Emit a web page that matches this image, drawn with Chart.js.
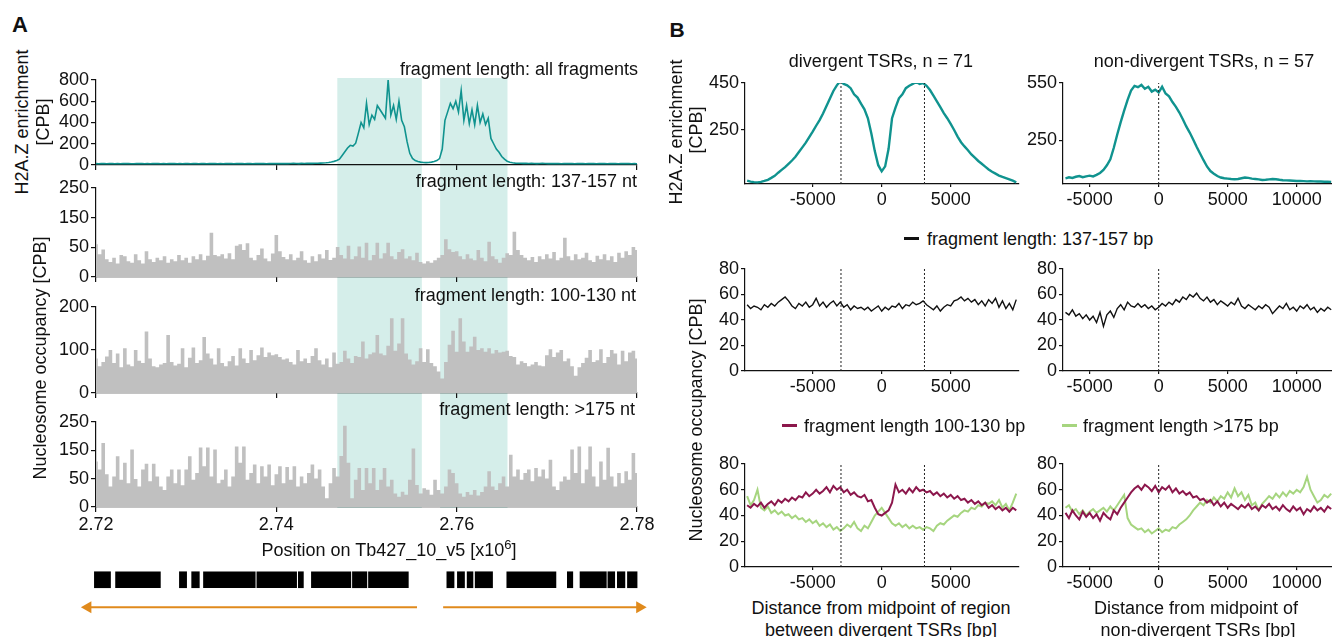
<!DOCTYPE html>
<html>
<head>
<meta charset="utf-8">
<title>H2A.Z enrichment and nucleosome occupancy</title>
<script src="https://cdn.jsdelivr.net/npm/chart.js@4.4.1/dist/chart.umd.min.js"></script>
<style>
  html, body { margin: 0; padding: 0; }
  body { width: 1332px; height: 637px; overflow: hidden; position: relative; background: #fff;
         font-family: "Liberation Sans", Arial, sans-serif; color: #111; }
  canvas { position: absolute; z-index: 1; }
  .txt { position: absolute; white-space: nowrap; font-size: 18px; line-height: 1; z-index: 2; }
  .c { transform: translate(-50%, -50%); }
  .r { transform: translate(-100%, -50%); }
  .l { transform: translate(0, -50%); }
  .rot { transform: translate(-50%, -50%) rotate(-90deg); }
  .panel { font-weight: bold; font-size: 22px; }
  .dash { position: absolute; height: 3px; width: 15px; z-index: 2; }
  sup { font-size: 13px; line-height: 0; vertical-align: 7px; }
</style>
</head>
<body>
<div class="txt panel c" style="left:20px;top:25px">A</div>
<div class="txt panel c" style="left:677px;top:29px;font-size:21px">B</div>

<div class="txt r" style="left:638px;top:69px">fragment length: all fragments</div>
<div class="txt r" style="left:637px;top:181px">fragment length: 137-157 nt</div>
<div class="txt r" style="left:636px;top:295px">fragment length: 100-130 nt</div>
<div class="txt r" style="left:635px;top:409px">fragment length: &gt;175 nt</div>
<div class="txt c" style="left:389px;top:550px">Position on Tb427_10_v5 [x10<sup>6</sup>]</div>
<div class="txt rot" style="left:22px;top:122px">H2A.Z enrichment</div>
<div class="txt rot" style="left:43px;top:122px">[CPB]</div>
<div class="txt rot" style="left:40px;top:358px">Nucleosome occupancy [CPB]</div>

<div class="txt c" style="left:881px;top:61px">divergent TSRs, n = 71</div>
<div class="txt c" style="left:1204px;top:61px">non-divergent TSRs, n = 57</div>
<div class="txt rot" style="left:676px;top:132px">H2A.Z enrichment</div>
<div class="txt rot" style="left:696px;top:130px">[CPB]</div>
<div class="txt rot" style="left:696px;top:420px">Nucleosome occupancy [CPB]</div>

<div class="dash" style="left:904px;top:237px;background:#111"></div>
<div class="txt l" style="left:927px;top:239px">fragment length: 137-157 bp</div>
<div class="dash" style="left:782px;top:424px;background:#8c174c"></div>
<div class="txt l" style="left:804px;top:426px">fragment length 100-130 bp</div>
<div class="dash" style="left:1062px;top:424px;background:#a6d57f"></div>
<div class="txt l" style="left:1083px;top:426px">fragment length &gt;175 bp</div>

<div class="txt c" style="left:881px;top:608px">Distance from midpoint of region</div>
<div class="txt c" style="left:881px;top:630px">between divergent TSRs [bp]</div>
<div class="txt c" style="left:1196px;top:608px">Distance from midpoint of</div>
<div class="txt c" style="left:1198px;top:630px">non-divergent TSRs [bp]</div>

<script>
// ---------- panel A: locus on Tb427_10_v5 (x10^6) ----------
const posStartA = 2.72;
const tealBin = 0.0003;
const grayBin = 0.0004;

const h2azAll = [
  13,12,14,13,12,13,14,12,13,12, 13,14,13,12,12,13,14,13,12,13,
  12,13,13,14,12,13,12,13,14,13, 12,13,12,14,13,12,13,13,12,14,
  13,12,13,14,13,12,13,12,13,14, 13,12,14,13,13,12,13,14,12,13,
  13,14,13,12,13,14,13,13,14,13, 14,13,14,15,14,13,15,14,15,16,
  15,16,17,18,19,21,24,28,34,42, 55,90,125,160,185,178,205,300,400,350,
  580,380,470,430,560,520,480,440,800,470, 560,430,600,420,360,220,110,62,42,32,
  27,24,22,23,27,32,42,60,150,420, 500,580,530,600,500,700,420,560,390,520,
  380,560,400,480,380,440,250,200,150,120, 80,55,36,26,21,18,17,16,15,15,
  14,15,14,13,14,15,14,13,14,13, 14,13,12,14,13,14,13,12,13,14,
  13,12,13,14,13,12,13,14,13,12, 13,14,13,12,13,13,14,13,12,13,
  12
];
const occ137 = [
  92,64,77,50,42,54,38,62,58,44, 40,64,47,38,72,50,42,54,47,58,
  40,50,44,62,47,54,40,58,50,64, 47,60,124,62,58,64,52,67,50,88,
  92,76,95,54,47,62,80,52,44,66, 118,72,56,50,64,47,54,72,47,40,
  58,44,64,52,76,48,54,84,62,52, 88,50,58,86,54,96,47,62,96,52,
  67,96,58,50,70,78,52,58,47,68, 42,38,44,40,47,54,62,106,78,70,
  72,58,50,64,52,47,76,54,44,99, 58,50,40,54,67,62,127,76,62,54,
  47,56,42,58,50,64,52,70,47,54, 110,58,47,64,50,54,68,47,42,60,
  50,64,47,58,42,68,54,72,62,84, 76
];
const occ100 = [
  80,62,72,85,100,70,92,60,104,66, 62,100,75,70,143,80,62,60,66,70,
  135,72,64,68,104,60,82,106,70,76, 130,92,80,66,104,70,62,74,86,64,
  104,80,70,100,76,88,106,84,94,88, 90,84,78,80,72,66,100,74,80,70,
  86,104,76,66,80,60,94,68,72,98, 80,70,86,84,120,80,90,94,135,92,
  88,110,174,98,115,174,92,78,66,74, 104,72,102,70,62,50,34,72,112,145,
  96,174,120,96,108,131,100,104,96,104, 92,100,94,96,98,86,84,66,74,70,
  62,66,72,64,62,88,102,84,94,100, 74,80,62,40,60,70,82,100,72,76,
  102,70,84,100,92,66,98,74,94,98, 80
];
const occ175 = [
  134,110,188,96,60,90,149,80,130,70, 169,82,60,110,127,76,127,90,60,50,
  90,110,70,110,64,110,149,80,100,175, 120,175,90,169,70,80,110,60,90,178,
  130,178,80,100,125,70,120,90,125,64, 96,120,70,118,80,120,60,90,70,100,
  125,84,110,60,26,70,115,90,150,239, 130,26,80,115,50,115,70,115,50,80,
  115,60,80,40,30,45,36,80,172,65, 40,55,51,36,80,50,40,60,110,100,
  70,40,30,44,36,50,34,44,60,105, 60,50,70,90,60,154,90,110,80,100,
  110,76,115,90,110,84,139,60,50,75, 90,80,169,100,178,70,110,178,90,60,
  134,80,174,90,60,100,70,105,80,159, 100
];

const shadeRegions = [[2.7468, 2.7561], [2.7582, 2.7656]];
const genes = [
  [2.71982, 2.72161], [2.72217, 2.72714], [2.72925, 2.73005], [2.73061, 2.73146],
  [2.73192, 2.73766], [2.73784, 2.74225], [2.74244, 2.74300], [2.74389, 2.74826],
  [2.74844, 2.75004], [2.75022, 2.75464],
  [2.75891, 2.75971], [2.76008, 2.76087], [2.76116, 2.76181], [2.76205, 2.76398],
  [2.76556, 2.77101], [2.77227, 2.77288], [2.77368, 2.77660], [2.77677, 2.77753],
  [2.77782, 2.77866], [2.77894, 2.78001]
];
const strandArrows = [[2.7556, 2.7191], [2.7585, 2.7803]];

const posTicksA = [2.72, 2.74, 2.76, 2.78];
const h2azTicksA = [0, 200, 400, 600, 800];
const occTicks100 = [0, 100, 200];
const occLabels250 = ['0', '50', '150', '250'];

// ---------- panel B: profiles around TSRs ----------
const divStart = -9750;
const nonStart = -6750;
const binB = 250;

const divH2az = [
  34,30,28,27,29,33,38,46,55,68, 80,92,106,120,136,156,176,196,220,243,
  268,292,320,352,384,416,440,458,446,440, 428,402,388,362,338,300,235,160,100,74,
  95,170,300,345,385,402,428,438,446,454, 446,450,438,420,396,372,347,322,300,276,
  250,222,198,180,164,146,132,118,106,94, 82,72,64,56,50,45,40,34,27
];
const nonH2az = [
  50,55,52,58,62,56,60,64,60,68, 78,94,118,150,210,280,345,405,462,510,
  535,528,540,520,530,505,515,500,530,495, 480,450,425,395,360,322,290,254,215,180,
  145,112,88,74,62,54,50,48,46,45, 46,50,54,52,48,46,44,41,42,44,
  46,45,42,40,39,38,37,36,36,35, 34,35,34,33,33,32,32,31
];
const div137 = [
  52,49,51,50,48,52,50,53,51,54, 56,58,55,51,49,53,51,54,50,52,
  57,51,54,50,53,55,51,54,50,52, 48,51,49,50,48,50,47,49,51,47,
  50,48,51,50,53,49,52,51,54,52, 53,55,52,50,48,51,47,50,52,51,
  55,56,58,55,57,54,56,52,55,51, 56,53,57,50,55,49,53,48,56
];
const non137 = [
  46,44,48,43,45,41,44,40,43,38, 46,35,44,47,42,49,52,48,54,51,
  50,53,50,52,49,51,48,50,53,51, 54,52,56,54,58,56,60,58,61,57,
  55,58,54,56,52,55,53,51,54,52, 57,51,49,52,50,48,51,49,52,50,
  45,48,51,49,53,48,50,47,51,49, 52,48,50,46,49,47,50,48
];
const div100 = [
  48,46,49,47,50,46,49,51,48,52, 50,53,51,54,52,55,54,58,55,57,
  60,57,59,62,58,63,60,62,58,60, 56,58,55,54,56,51,52,46,41,40,
  42,44,50,64,58,60,57,61,58,62, 59,60,58,59,56,58,55,57,54,56,
  53,55,52,53,50,52,49,51,48,50, 46,48,45,47,44,46,43,46,44
];
const div175 = [
  55,48,52,60,46,44,47,42,44,41, 43,40,41,38,40,37,38,35,37,34,
  36,32,34,31,33,29,31,28,30,33, 31,35,30,28,32,30,35,40,43,46,
  42,38,34,32,34,31,33,30,32,30, 31,29,31,30,28,32,34,33,36,38,
  40,39,42,44,43,46,45,48,47,50, 49,51,48,52,46,49,44,50,57
];
const non100 = [
  42,38,44,40,37,43,39,42,38,41, 36,42,39,37,44,41,46,50,54,58,
  61,63,60,64,62,59,63,58,62,60, 63,58,61,57,59,56,58,54,55,52,
  53,50,52,48,51,47,50,46,49,47, 45,48,46,49,45,47,44,48,46,49,
  45,47,44,48,45,43,47,44,46,41, 45,43,47,44,46,43,47,45
];
const non175 = [
  46,48,43,45,41,44,40,43,45,42, 44,46,43,47,44,48,52,56,38,33,
  31,29,30,27,29,26,28,30,27,29, 28,31,30,33,35,37,40,44,47,50,
  48,52,50,54,51,55,53,58,54,61, 55,58,52,56,48,50,44,49,52,55,
  53,57,54,58,55,59,57,60,58,62, 70,60,55,50,52,56,54,57
];

const divMarks = [-2950, 3100];
const nonMarks = [0];
const divTicksX = [-5000, 0, 5000];
const nonTicksX = [-5000, 0, 5000, 10000];
const divH2azTicks = [250, 450];
const nonH2azTicks = [250, 550];
const occTicksB = [0, 20, 40, 60, 80];

// ---------- styling ----------
const TEAL = '#10938f', GRAY = '#c0c0c0', SHADE = '#d5eeea';
const MAROON = '#8c174c', GREEN = '#a6d57f', ORANGE = '#e08a1c', INK = '#111';

Chart.defaults.font.family = '"Liberation Sans", Arial, sans-serif';
Chart.defaults.font.size = 18;
Chart.defaults.color = INK;
Chart.defaults.animation = false;
Chart.defaults.plugins.legend.display = false;
Chart.defaults.plugins.tooltip.enabled = false;
Chart.defaults.elements.point.radius = 0;
Chart.defaults.elements.line.tension = 0;

function series(values, start, step) {
  return values.map((v, i) => ({ x: start + i * step, y: v }));
}

function axis(min, max, ticks, label, tickLen, showLabels = true) {
  return {
    type: 'linear', min, max, offset: false,
    afterBuildTicks: s => { s.ticks = ticks.map(v => ({ value: v })); },
    ticks: { autoSkip: false, maxRotation: 0, padding: 2, color: INK,
             callback: showLabels ? label : () => '' },
    grid: { drawOnChartArea: false, drawTicks: true, tickLength: tickLen, color: INK, lineWidth: 1.2 },
    border: { display: true, color: INK, width: 1.2 }
  };
}

function addCanvas(left, top, w, h) {
  const cv = document.createElement('canvas');
  cv.width = w; cv.height = h;
  cv.style.left = left + 'px'; cv.style.top = top + 'px';
  document.body.appendChild(cv);
  return cv;
}

// plot box l..r, t..b is fixed in page pixels; axes get fixed sizes
function frame(box, config) {
  const { l, t, r, b, yw = 60, xh = 30, pt = 12, pr = 24 } = box;
  const cv = addCanvas(l - yw, t - pt, r - l + yw + pr, b - t + pt + xh);
  const o = config.options;
  o.responsive = false;
  o.devicePixelRatio = 1;
  o.layout = { autoPadding: false, padding: { left: 0, top: pt, right: pr, bottom: 0 } };
  o.scales.x.afterFit = s => { s.height = xh; s.paddingLeft = 0; s.paddingRight = 0; };
  o.scales.y.afterFit = s => { s.width = yw; s.paddingTop = 0; s.paddingBottom = 0; };
  return new Chart(cv, config);
}

// chart without visible axes
function bare(box, config) {
  const { l, t, r, b } = box;
  const cv = addCanvas(l, t, r - l, b - t);
  const o = config.options;
  o.responsive = false;
  o.devicePixelRatio = 1;
  o.layout = { autoPadding: false, padding: 0 };
  return new Chart(cv, config);
}

const fmtPos = v => v.toFixed(2);
const plain = v => String(v);
const thirds = (v, i) => occLabels250[i];
const occTicks250 = occLabels250.map((_, i) => 250 * i / 3);

// ---------- panel A ----------
bare({ l: 96, r: 637, t: 78, b: 508 }, {
  type: 'bar',
  data: { labels: ['shade'], datasets: [{
    indexAxis: 'y', data: shadeRegions.map(s => ({ x: s, y: 'shade' })),
    backgroundColor: SHADE, categoryPercentage: 1, barPercentage: 1, grouped: false
  }] },
  options: { indexAxis: 'y', scales: {
    x: { type: 'linear', min: 2.72, max: 2.78, offset: false, display: false },
    y: { type: 'category', display: false }
  } }
});

frame({ l: 96, r: 637, t: 80, b: 165, xh: 8 }, {
  type: 'line',
  data: { datasets: [{ data: series(h2azAll, posStartA, tealBin), borderColor: TEAL, borderWidth: 1.6 }] },
  options: { scales: {
    x: axis(2.72, 2.78, posTicksA, fmtPos, 5, false),
    y: axis(0, 800, h2azTicksA, plain, 5)
  } }
});

function grayTrack(t, b, values, yMax, yTicks, yLabel, showX) {
  return frame({ l: 96, r: 637, t, b, xh: showX ? 30 : 8 }, {
    type: 'line',
    data: { datasets: [{
      data: series(values, posStartA, grayBin), stepped: 'middle', fill: 'origin',
      backgroundColor: GRAY, borderColor: GRAY, borderWidth: 0
    }] },
    options: { scales: {
      x: axis(2.72, 2.78, posTicksA, fmtPos, 5, showX),
      y: axis(0, yMax, yTicks, yLabel, 5)
    } }
  });
}
grayTrack(188, 277, occ137, 250, occTicks250, thirds, false);
grayTrack(307, 393, occ100, 200, occTicks100, plain, false);
grayTrack(422, 507, occ175, 250, occTicks250, thirds, true);

// gene track: same position scale as the tracks above, widened to 70..660 px so the arrow heads fit
bare({ l: 70, r: 660, t: 566, b: 621 }, {
  type: 'bar',
  data: { datasets: [
    { type: 'bar', indexAxis: 'y', data: genes.map(g => ({ x: g, y: 'genes' })),
      backgroundColor: '#000', barThickness: 16, grouped: false, clip: false },
    ...strandArrows.map(([from, to]) => ({
      type: 'line', data: [{ x: from, y: 'strand' }, { x: to, y: 'strand' }],
      borderColor: ORANGE, borderWidth: 2.2, clip: false,
      pointStyle: 'triangle', pointRadius: [0, 7], pointRotation: [0, to < from ? -90 : 90],
      pointBackgroundColor: ORANGE, pointBorderWidth: 0
    }))
  ] },
  options: { scales: {
    x: { type: 'linear', min: 2.717116, max: 2.782551, offset: false, display: false },
    y: { type: 'category', labels: ['genes', 'strand'], offset: true, display: false }
  } }
});

// ---------- panel B ----------
function profile(box, xr, xTicks, yr, yTicks, lines, marks) {
  const markSets = marks.map(m => ({
    data: [{ x: m, y: yr[0] }, { x: m, y: yr[1] }],
    borderColor: '#222', borderWidth: 1, borderDash: [2, 2], order: 0
  }));
  return frame({ yw: 50, xh: 28, pt: 12, pr: 30, ...box }, {
    type: 'line',
    data: { datasets: [...markSets, ...lines] },
    options: { scales: {
      x: axis(xr[0], xr[1], xTicks, plain, 3),
      y: axis(yr[0], yr[1], yTicks, plain, 4)
    } }
  });
}
const divX = [-9905, 9950], nonX = [-6930, 12630];
const L = { l: 745, r: 1019 }, R = { l: 1063, r: 1333 };

profile({ ...L, t: 83, b: 184 }, divX, divTicksX, [20, 450], divH2azTicks,
  [{ data: series(divH2az, divStart, binB), borderColor: TEAL, borderWidth: 2.4, order: 1 }], divMarks);
profile({ ...R, t: 83, b: 184 }, nonX, nonTicksX, [20, 550], nonH2azTicks,
  [{ data: series(nonH2az, nonStart, binB), borderColor: TEAL, borderWidth: 2.4, order: 1 }], nonMarks);

profile({ ...L, t: 269, b: 371 }, divX, divTicksX, [0, 80], occTicksB,
  [{ data: series(div137, divStart, binB), borderColor: INK, borderWidth: 1.4, order: 1 }], divMarks);
profile({ ...R, t: 269, b: 371 }, nonX, nonTicksX, [0, 80], occTicksB,
  [{ data: series(non137, nonStart, binB), borderColor: INK, borderWidth: 1.4, order: 1 }], nonMarks);

profile({ ...L, t: 464, b: 567 }, divX, divTicksX, [0, 80], occTicksB, [
  { data: series(div100, divStart, binB), borderColor: MAROON, borderWidth: 2, order: 1 },
  { data: series(div175, divStart, binB), borderColor: GREEN, borderWidth: 2, order: 2 }
], divMarks);
profile({ ...R, t: 464, b: 567 }, nonX, nonTicksX, [0, 80], occTicksB, [
  { data: series(non100, nonStart, binB), borderColor: MAROON, borderWidth: 2, order: 1 },
  { data: series(non175, nonStart, binB), borderColor: GREEN, borderWidth: 2, order: 2 }
], nonMarks);
</script>
</body>
</html>
